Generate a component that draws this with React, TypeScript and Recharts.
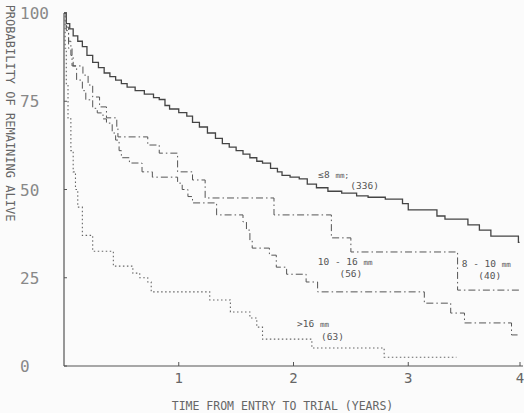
import { LineChart, Line, XAxis, YAxis, ReferenceDot, Label } from 'recharts'

// survival step points: [years, % alive]
const le8mm = [
  [0, 100], [0.02, 97], [0.05, 95.5], [0.08, 93.5], [0.12, 92], [0.16, 90.5], [0.2, 88],
  [0.25, 86], [0.3, 84.5], [0.35, 83], [0.4, 82], [0.45, 81], [0.5, 80], [0.55, 79],
  [0.62, 78], [0.7, 77], [0.78, 76], [0.83, 75.5], [0.88, 73.8], [0.92, 72.8], [1.0, 71.8],
  [1.07, 70.8], [1.12, 69], [1.18, 67.7], [1.25, 66], [1.32, 64.5], [1.38, 63], [1.44, 62],
  [1.5, 61], [1.56, 60], [1.62, 59], [1.68, 58], [1.73, 57.5], [1.8, 56], [1.86, 55],
  [1.9, 54], [1.97, 53.5], [2.05, 53], [2.12, 51.5], [2.2, 50.5], [2.3, 49.5], [2.42, 49],
  [2.55, 48.2], [2.65, 47.8], [2.8, 47.3], [2.95, 46], [3.0, 44.2], [3.25, 42.5],
  [3.32, 41.6], [3.52, 40], [3.62, 38.5], [3.72, 36.8], [3.96, 35], [3.97, 35],
]

const mm8to10 = [
  [0, 100], [0.02, 96], [0.04, 92], [0.06, 88], [0.08, 85], [0.165, 82.4], [0.21, 79.6],
  [0.25, 76.2], [0.31, 73.4], [0.37, 70.3], [0.46, 67.7], [0.47, 64.9], [0.73, 62.6],
  [0.83, 60.3], [0.99, 55], [1.12, 52.7], [1.23, 47.6], [1.83, 42.8], [2.33, 36.3],
  [2.5, 32.3], [3.43, 21.5], [3.97, 21.5],
]

const mm10to16 = [
  [0, 100], [0.02, 95], [0.04, 90], [0.07, 85], [0.11, 81], [0.16, 78], [0.19, 75.4],
  [0.25, 73], [0.29, 71.7], [0.34, 70], [0.37, 68.8], [0.42, 66], [0.45, 64], [0.48, 61],
  [0.5, 59], [0.57, 57.5], [0.68, 55], [0.77, 53.5], [0.99, 51.8], [1.03, 50], [1.08, 48],
  [1.12, 46.2], [1.33, 42.8], [1.56, 40.8], [1.59, 38.5], [1.62, 35.7], [1.64, 33.4],
  [1.79, 31.4], [1.85, 28], [1.94, 26], [2.11, 23.8], [2.21, 21], [3.14, 17.8],
  [3.37, 15], [3.49, 12.2], [3.9, 8.8], [3.96, 8.8],
]

const gt16mm = [
  [0, 100], [0.01, 90], [0.02, 80], [0.035, 70], [0.06, 61], [0.08, 55], [0.1, 50],
  [0.12, 45], [0.16, 37], [0.25, 32.5], [0.43, 28.3], [0.6, 26.3], [0.66, 25], [0.73, 23.8],
  [0.76, 21], [1.27, 18.7], [1.45, 15.3], [1.62, 13.6], [1.68, 11], [1.73, 7.6], [2.16, 5.1],
  [2.79, 2.5], [3.42, 2.5],
]

const xTicks = [1, 2, 3, 4]
const yTicks = [0, 25, 50, 75, 100]

// curve annotations: [years, %, text, unit]
const notes: [number, number, string, string][] = [
  [2.35, 54.2, '\u22648 ', 'mm;'],
  [2.62, 50.9, '(336)', ''],
  [2.45, 29.4, '10 - 16 ', 'mm'],
  [2.5, 26.1, '(56)', ''],
  [3.68, 28.8, '8 - 10 ', 'mm'],
  [3.71, 25.5, '(40)', ''],
  [2.17, 11.9, '>16 ', 'mm'],
  [2.34, 8.3, '(63)', ''],
]

const toRows = (pts: number[][]) => pts.map(([t, p]) => ({ t, p }))

const font = '"DejaVu Sans Mono", monospace'
const ink = '#555'

const XTick = ({ x, y, payload }: any) => (
  <g>
    <line x1={x} x2={x} y1={y} y2={y - 4} stroke={ink} strokeWidth={1} />
    <text x={x} y={y + 17} textAnchor="middle" fontFamily={font} fontSize={14} fill="#666">
      {payload.value}
    </text>
  </g>
)

const YTick = ({ x, y, payload }: any) => (
  <g>
    <line x1={x} x2={x + 3} y1={y} y2={y} stroke={ink} strokeWidth={1} />
    <text x={x - 44} y={y + 6} textAnchor="start" fontFamily={font} fontSize={16} fill="#888">
      {payload.value}
    </text>
  </g>
)

const NoteLabel = (text: string, unit: string) => (props: any) => {
  const vb = props.viewBox || {}
  const cx = vb.cx ?? vb.x + (vb.width || 0) / 2
  const cy = vb.cy ?? vb.y + (vb.height || 0) / 2
  return (
    <text x={cx} y={cy + 3} textAnchor="middle" fontFamily={font} fontSize={9.5} fill={ink}>
      {text}
      {unit && <tspan fontSize={7.5}>{unit}</tspan>}
    </text>
  )
}

export default function App() {
  return (
    <div style={{ position: 'absolute', left: 0, top: 0, background: '#fbfbfb' }}>
      <LineChart width={524} height={413} margin={{ top: 13, right: 1, bottom: 17, left: 0 }}>
        <XAxis
          type="number"
          dataKey="t"
          domain={[0, 4]}
          ticks={xTicks}
          allowDataOverflow
          height={30}
          tickSize={0}
          tickMargin={0}
          tick={<XTick />}
          stroke={ink}
          strokeWidth={1.2}
        >
          <Label
            content={(p: any) => (
              <text
                x={p.viewBox.x + p.viewBox.width / 2 - 11}
                y={p.viewBox.y + 44}
                textAnchor="middle"
                fontFamily={font}
                fontSize={11.5}
                fill="#666"
              >
                TIME FROM ENTRY TO TRIAL (YEARS)
              </text>
            )}
          />
        </XAxis>
        <YAxis
          type="number"
          domain={[0, 100]}
          ticks={yTicks}
          width={64}
          tickSize={0}
          tickMargin={0}
          tick={<YTick />}
          stroke={ink}
          strokeWidth={1.2}
        >
          <Label
            content={() => (
              <text
                x={6}
                y={113}
                transform="rotate(90 6 113)"
                textAnchor="middle"
                fontFamily={font}
                fontSize={12}
                fill="#666"
              >
                PROBABILITY OF REMAINING ALIVE
              </text>
            )}
          />
        </YAxis>
        <Line data={toRows(le8mm)} dataKey="p" type="stepAfter" stroke="#444" strokeWidth={1.3}
          dot={false} isAnimationActive={false} />
        <Line data={toRows(mm8to10)} dataKey="p" type="stepAfter" stroke="#555" strokeWidth={1}
          strokeDasharray="7 3 1.5 3" dot={false} isAnimationActive={false} />
        <Line data={toRows(mm10to16)} dataKey="p" type="stepAfter" stroke="#555" strokeWidth={1}
          strokeDasharray="7 3 1.5 3" dot={false} isAnimationActive={false} />
        <Line data={toRows(gt16mm)} dataKey="p" type="stepAfter" stroke="#666" strokeWidth={1.1}
          strokeDasharray="1.5 2.5" dot={false} isAnimationActive={false} />
        {notes.map(([t, p, text, unit], i) => (
          <ReferenceDot key={i} x={t} y={p} r={0} fill="none" stroke="none"
            label={{ content: NoteLabel(text, unit) }} />
        ))}
      </LineChart>
    </div>
  )
}
